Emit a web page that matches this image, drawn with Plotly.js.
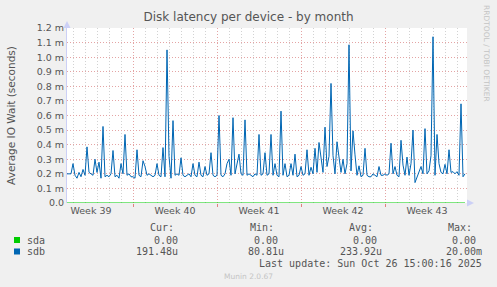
<!DOCTYPE html>
<html>
<head>
<meta charset="utf-8">
<script src="https://cdn.plot.ly/plotly-3.0.1.min.js"></script>
<style>
  html, body { margin: 0; padding: 0; background: #F0F0F0; }
  #chart { width: 497px; height: 287px; }
</style>
</head>
<body>
<div id="chart"></div>
<script>
// ---------------- data ----------------
const chartTitle = 'Disk latency per device - by month';
const yAxisTitle = 'Average IO Wait (seconds)';
const seriesNames = ['sda', 'sdb'];
const seriesColors = ['#00CC00', '#0066B3'];

// sdb samples, every 4 hours starting at sampleStart (values in milliseconds)
const sampleStart = '2025-09-23T12:00:00Z';
const sampleStepHours = 4;
const sdbWaitMs = [
  0.20,0.20,0.20,0.27,0.19,0.17,0.21,0.18,0.23,0.19,
  0.385,0.21,0.20,0.19,0.30,0.21,0.28,0.17,0.525,0.18,
  0.19,0.18,0.20,0.36,0.18,0.19,0.17,0.27,0.20,0.47,
  0.19,0.20,0.18,0.18,0.17,0.365,0.19,0.18,0.29,0.25,
  0.19,0.20,0.19,0.18,0.19,0.27,0.19,0.18,0.38,0.18,
  1.05,0.32,0.17,0.565,0.19,0.20,0.19,0.31,0.19,0.18,
  0.19,0.20,0.18,0.27,0.19,0.18,0.28,0.19,0.18,0.25,
  0.19,0.20,0.345,0.19,0.18,0.19,0.60,0.19,0.18,0.20,
  0.27,0.30,0.19,0.585,0.20,0.28,0.335,0.20,0.19,0.57,
  0.19,0.20,0.19,0.18,0.20,0.19,0.47,0.19,0.20,0.345,
  0.19,0.20,0.47,0.19,0.27,0.19,0.18,0.63,0.19,0.27,
  0.18,0.19,0.27,0.19,0.335,0.18,0.19,0.25,0.19,0.20,
  0.365,0.19,0.245,0.20,0.375,0.21,0.415,0.32,0.21,0.52,
  0.25,0.32,0.82,0.325,0.20,0.42,0.32,0.21,0.30,0.20,
  0.27,1.085,0.22,0.495,0.33,0.19,0.255,0.18,0.19,0.375,
  0.19,0.18,0.18,0.20,0.19,0.18,0.25,0.19,0.19,0.20,
  0.19,0.20,0.41,0.20,0.25,0.19,0.18,0.43,0.26,0.19,
  0.315,0.19,0.27,0.50,0.14,0.18,0.215,0.25,0.20,0.51,
  0.20,0.22,0.325,1.14,0.19,0.47,0.27,0.21,0.20,0.265,
  0.20,0.365,0.21,0.215,0.20,0.215,0.19,0.68,0.18,0.20
];
// sda is flat at zero over the whole period
const sdaTimes = ['2025-09-23 12:00', '2025-10-26 16:00'];
const sdaWaitMs = [0, 0];

const xRange = ['2025-09-23 12:00', '2025-10-26 20:00'];
const weekStarts = ['2025-09-29', '2025-10-06', '2025-10-13', '2025-10-20'];
const weekLabelAt = ['2025-09-25 12:00', '2025-10-02 12:00', '2025-10-09 12:00', '2025-10-16 12:00', '2025-10-23 12:00'];
const weekLabels = ['Week 39', 'Week 40', 'Week 41', 'Week 42', 'Week 43'];

const yTickVals = [0, 0.1, 0.2, 0.3, 0.4, 0.5, 0.6, 0.7, 0.8, 0.9, 1.0, 1.1, 1.2];
const yTickText = ['0.0', '0.1 m', '0.2 m', '0.3 m', '0.4 m', '0.5 m', '0.6 m', '0.7 m', '0.8 m', '0.9 m', '1.0 m', '1.1 m', '1.2 m'];

const statHeaders = ['Cur:', 'Min:', 'Avg:', 'Max:'];
const curVals = ['0.00', '191.48u'];
const minVals = ['0.00', '80.81u'];
const avgVals = ['0.00', '233.92u'];
const maxVals = ['0.00', '20.00m'];
const lastUpdate = 'Last update: Sun Oct 26 15:00:16 2025';
const footer = 'Munin 2.0.67';
const sideText = 'RRDTOOL / TOBI OETIKER';

// ---------------- build ----------------
const startMs = Date.parse(sampleStart);
const sdbTimes = sdbWaitMs.map((_, i) =>
  new Date(startMs + i * sampleStepHours * 3600000).toISOString().slice(0, 16).replace('T', ' '));

// plot area in pixels: left 67, right 467, top 28, bottom 203
const PL = 67, PR = 467, PT = 28, PB = 203;
const px = x => (x - PL) / (PR - PL);
const py = y => (PB - y) / (PB - PT);

const traces = [
  { x: sdaTimes, y: sdaWaitMs, name: seriesNames[0], type: 'scatter', mode: 'lines',
    line: { color: seriesColors[0], width: 1 }, cliponaxis: false, xaxis: 'x2', yaxis: 'y', hoverinfo: 'skip' },
  { x: sdbTimes, y: sdbWaitMs, name: seriesNames[1], type: 'scatter', mode: 'lines',
    line: { color: seriesColors[1], width: 1 }, cliponaxis: false, hoverinfo: 'skip' }
];

const txt = '#555555';
const mono = 'DejaVu Sans Mono, monospace';
const sans = 'DejaVu Sans, sans-serif';

const annotations = [];
function addText(text, x, y, opts) {
  annotations.push(Object.assign({
    text: text, xref: 'paper', yref: 'paper', x: px(x), y: py(y),
    xanchor: 'left', yanchor: 'middle', showarrow: false, borderpad: 0,
    font: { family: mono, size: 10, color: txt }
  }, opts || {}));
}
// stats header
const headerX = [149, 249, 348, 447];
statHeaders.forEach((h, i) => addText(h, headerX[i], 227));
// legend rows
const rowY = [240, 251.5];
const colRight = [[179, 279, 378, 477], [179, 285, 383, 483]];
seriesNames.forEach((n, r) => {
  addText(n, 26, rowY[r]);
  [curVals, minVals, avgVals, maxVals].forEach((arr, c) => {
    addText(arr[r], colRight[r][c], rowY[r], { xanchor: 'right' });
  });
});
addText(lastUpdate, 483, 263, { xanchor: 'right' });
addText(footer, 248, 276, { xanchor: 'center', font: { family: sans, size: 7.5, color: '#C4C4C4' } });
addText(sideText, 487, 53, { xanchor: 'center', textangle: 90, font: { family: sans, size: 7.5, color: '#C4C4C4' } });

const shapes = [];
// legend colour squares
seriesColors.forEach((c, r) => {
  shapes.push({ type: 'rect', xref: 'paper', yref: 'paper', xsizemode: 'pixel', ysizemode: 'pixel',
    xanchor: px(14), yanchor: py(rowY[r]), x0: 0, x1: 6, y0: -3, y1: 3,
    fillcolor: c, line: { width: 0 } });
});
// axis arrows
shapes.push({ type: 'path', xref: 'paper', yref: 'paper', xsizemode: 'pixel', ysizemode: 'pixel',
  xanchor: 0, yanchor: 1, path: 'M -3.5 0 L 3.5 0 L 0 7 Z', fillcolor: '#CCD0F6', line: { width: 0 } });
shapes.push({ type: 'path', xref: 'paper', yref: 'paper', xsizemode: 'pixel', ysizemode: 'pixel',
  xanchor: 1, yanchor: 0, path: 'M 0 -3.5 L 0 3.5 L 7 0 Z', fillcolor: '#CCD0F6', line: { width: 0 } });

const layout = {
  width: 497, height: 287,
  margin: { l: PL, r: 497 - PR, t: PT, b: 287 - PB },
  paper_bgcolor: '#F0F0F0', plot_bgcolor: '#FFFFFF',
  showlegend: false,
  title: { text: chartTitle, x: 0.5, xref: 'container', xanchor: 'center',
           y: 1 - 17 / 287, yref: 'container', yanchor: 'middle',
           font: { family: sans, size: 12, color: '#555555' } },
  xaxis: {
    type: 'date', range: xRange, tickmode: 'array', tickvals: weekStarts,
    showticklabels: false, ticks: 'outside', ticklen: 3, tickcolor: '#E08080',
    showgrid: true, gridcolor: '#E4A4A4', griddash: '1px,2px', gridwidth: 1,
    minor: { dtick: 86400000, tick0: '2025-09-22', showgrid: true, gridcolor: '#D2D2D2', griddash: '1px,2px', ticks: '' },
    showline: false, zeroline: false, fixedrange: true
  },
  xaxis2: {
    type: 'date', range: xRange, overlaying: 'x', anchor: 'y', side: 'bottom',
    tickmode: 'array', tickvals: weekLabelAt, ticktext: weekLabels,
    showgrid: false, ticks: '', showline: false, zeroline: false,
    tickfont: { family: sans, size: 9.5, color: txt }, fixedrange: true
  },
  yaxis: {
    range: [0, 1.2001], tickmode: 'array', tickvals: yTickVals, ticktext: yTickText,
    showgrid: true, gridcolor: '#E4A4A4', griddash: '1px,2px', gridwidth: 1,
    zeroline: false, showline: true, linecolor: '#CCD0F6', linewidth: 1,
    ticks: '', tickfont: { family: sans, size: 9.5, color: txt },
    title: { text: yAxisTitle, font: { family: sans, size: 10.5, color: txt }, standoff: 19 },
    fixedrange: true
  },
  annotations: annotations,
  shapes: shapes
};

Plotly.newPlot('chart', traces, layout, { displayModeBar: false, staticPlot: true });
</script>
</body>
</html>
